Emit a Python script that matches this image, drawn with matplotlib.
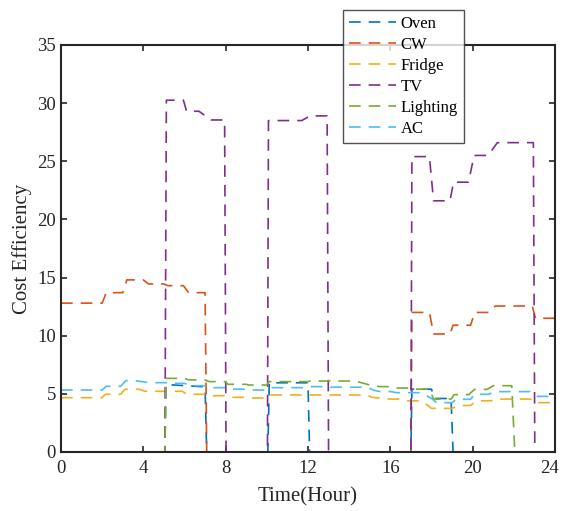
import numpy as np
import matplotlib
matplotlib.use("Agg")
import matplotlib.pyplot as plt
import matplotlib.transforms as mtransforms

plt.rcParams['font.family'] = ['Liberation Serif', 'DejaVu Serif']

# breakpoints (hour, value)
oven_t = [0, 5.05, 5.1, 7.0, 7.08, 10.05, 10.12, 12.0, 12.08, 17.0, 17.05, 18.0, 18.15, 18.95, 19.05, 24]
oven_v = [0, 0, 5.8, 5.6, 0, 0, 5.95, 5.95, 0, 0, 5.4, 5.4, 4.6, 4.6, 0, 0]

cw_t = [0, 2.0, 2.2, 3.0, 3.2, 4.0, 4.25, 5.0, 5.2, 5.95, 6.2, 7.0, 7.08, 17.0, 17.05, 17.9, 18.1,
        18.9, 19.05, 19.9, 20.1, 20.8, 21.1, 22.9, 23.05, 24]
cw_v = [12.8, 12.8, 13.7, 13.7, 14.8, 14.8, 14.45, 14.45, 14.3, 14.3, 13.7, 13.7, 0, 0, 12.0, 12.0, 10.15,
        10.15, 10.9, 10.9, 12.0, 12.0, 12.55, 12.55, 11.5, 11.5]

fridge_t = [0, 2.0, 2.15, 2.9, 3.1, 3.8, 4.1, 5.9, 6.1, 7.1, 7.3, 8.0, 8.2, 9.1, 9.3, 9.95, 10.1, 14.9,
            15.1, 15.7, 15.95, 16.6, 16.8, 17.5, 17.6, 18.0, 19.0, 19.3, 19.9, 20.2, 20.9, 21.1, 22.8,
            23.0, 24]
fridge_v = [4.67, 4.67, 4.96, 4.96, 5.39, 5.39, 5.22, 5.22, 4.96, 4.96, 4.84, 4.84, 4.7, 4.7, 4.64, 4.64,
            4.9, 4.9, 4.7, 4.6, 4.55, 4.55, 4.4, 4.4, 4.3, 3.75, 3.75, 4.0, 4.0, 4.4, 4.4, 4.55, 4.55,
            4.24, 4.24]

tv_t = [0, 5.05, 5.12, 5.95, 6.1, 6.7, 7.3, 7.95, 8.02, 10.03, 10.08, 11.7, 12.1, 12.93, 13.0, 17.0,
        17.05, 17.9, 18.1, 18.9, 19.07, 19.8, 20.07, 20.75, 21.2, 22.95, 23.02, 24]
tv_v = [0, 0, 30.25, 30.25, 29.3, 29.3, 28.55, 28.55, 0, 0, 28.5, 28.5, 28.9, 28.9, 0, 0,
        25.4, 25.4, 21.6, 21.6, 23.2, 23.2, 25.5, 25.5, 26.6, 26.6, 0, 0]

light_t = [0, 5.05, 5.1, 6.0, 6.2, 7.0, 7.2, 8.0, 8.1, 9.0, 9.1, 10.0, 10.1, 12.0, 12.1, 14.0, 14.4,
           15.0, 15.5, 16.1, 16.3, 17.0, 17.1, 17.9, 18.1, 18.95, 19.1, 19.8, 20.1, 20.7, 21.0, 21.9,
           22.05, 24]
light_v = [0, 0, 6.33, 6.33, 6.2, 6.2, 6.05, 6.05, 5.82, 5.82, 5.76, 5.76, 6.05, 6.05, 6.1, 6.1, 6.05,
           5.76, 5.62, 5.62, 5.5, 5.5, 5.4, 5.4, 4.55, 4.55, 4.93, 4.93, 5.38, 5.38, 5.7, 5.7, 0, 0]

ac_t = [0, 2.0, 2.2, 2.9, 3.15, 3.6, 4.3, 5.3, 5.5, 6.0, 6.3, 7.0, 7.3, 8.0, 8.3, 9.0, 9.3, 10.0, 10.2,
        12.0, 12.1, 13.0, 13.1, 14.9, 15.2, 15.5, 16.0, 16.3, 17.5, 18.0, 18.25, 19.0, 19.2, 19.9,
        20.1, 20.8, 21.0, 22.8, 23.1, 24]
ac_v = [5.33, 5.33, 5.65, 5.65, 6.13, 6.13, 5.96, 5.96, 5.9, 5.9, 5.7, 5.7, 5.53, 5.53, 5.4, 5.4, 5.33,
        5.33, 5.53, 5.53, 5.62, 5.62, 5.57, 5.57, 5.3, 5.2, 5.2, 5.1, 5.1, 4.6, 4.24, 4.24, 4.53, 4.53,
        4.96, 4.96, 5.19, 5.19, 4.78, 4.78]

names = ['Oven', 'CW', 'Fridge', 'TV', 'Lighting', 'AC']
colors = ['#0072BD', '#D95319', '#EDB120', '#7E2F8E', '#77AC30', '#4DBEEE']
series = [(oven_t, oven_v), (cw_t, cw_v), (fridge_t, fridge_v),
          (tv_t, tv_v), (light_t, light_v), (ac_t, ac_v)]

fig = plt.figure(figsize=(5.62, 5.11), dpi=100)
ax = fig.add_axes([0.1085, 0.1155, 0.8790, 0.7965])

for (t, v), name, c in zip(series, names, colors):
    ax.plot(t, v, color=c, lw=1.2, linestyle=(0, (7, 4.8)), label=name)

ax.set_xlim(0, 24)
ax.set_ylim(0, 35)
ax.set_xticks(np.arange(0, 25, 4))
ax.set_yticks(np.arange(0, 36, 5))
ax.tick_params(direction='in', length=4, width=1.2, labelsize=13.5, top=True, right=True,
               colors='#262626')
ax.tick_params(axis='x', pad=6)
for s in ax.spines.values():
    s.set_linewidth(1.5)
    s.set_color('#262626')
ax.set_xlabel('Time(Hour)', fontsize=15, color='#262626', labelpad=7)
ax.set_ylabel('Cost Efficiency', fontsize=15, color='#262626', labelpad=4)

# nudge the last x label so it stays inside the figure
fig.canvas.draw()
last = ax.get_xticklabels()[-1]
last.set_transform(last.get_transform() + mtransforms.ScaledTranslation(-5 / 100, 0, fig.dpi_scale_trans))

leg = ax.legend(loc='upper left', bbox_to_anchor=(343 / 562, 1 - 10 / 511),
                bbox_transform=fig.transFigure, fontsize=12, frameon=True, fancybox=False,
                edgecolor='#262626', handlelength=2.8, handletextpad=0.3, labelspacing=0.3,
                borderpad=0.35, borderaxespad=0)
leg.get_frame().set_linewidth(1.0)

fig.savefig('out.png', dpi=100)
